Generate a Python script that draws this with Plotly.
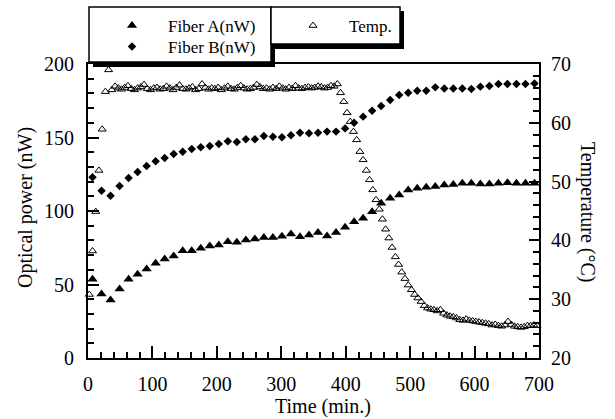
import plotly.graph_objects as go

# Sampling schedules (minutes)
time_fiber = list(range(7, 700, 14))      # 50 power readings
time_temp = list(range(2, 700, 5))        # 140 temperature readings

# Optical power of fiber A (nW)
fiber_a = [
    53.5, 43.5, 39.5, 47.0, 53.5, 57.0, 60.5, 64.4, 67.3, 69.4,
    73.0, 73.0, 74.6, 76.2, 76.9, 79.0, 78.7, 80.3, 81.0, 82.0,
    82.0, 82.8, 84.4, 82.5, 83.7, 85.3, 83.0, 85.3, 88.9, 92.7,
    95.0, 99.5, 105.2, 108.6, 110.9, 114.3, 115.4, 116.1, 116.6, 117.7,
    118.1, 118.8, 118.8, 118.4, 118.4, 118.8, 119.3, 118.8, 118.8, 118.8,
]

# Optical power of fiber B (nW)
fiber_b = [
    122.9, 113.8, 110.4, 117.0, 122.4, 126.5, 130.6, 133.8, 136.0, 138.8,
    140.3, 142.2, 143.3, 144.2, 145.6, 147.4, 146.9, 148.8, 148.8, 151.0,
    150.5, 150.1, 151.5, 153.3, 152.9, 153.3, 154.0, 154.0, 156.2, 160.1,
    164.2, 168.2, 171.4, 175.5, 178.9, 180.5, 181.8, 181.8, 184.1, 183.4,
    183.4, 183.4, 183.0, 184.6, 185.0, 186.4, 186.4, 186.4, 186.4, 186.8,
]

# Temperature (deg C): heating, hold, cooling
temp = [
    30.8, 38.2, 44.9, 51.9, 58.9, 65.3, 69.0,
    65.6, 66.2, 65.9, 65.7, 66.0, 66.3, 65.8, 65.6, 65.9, 66.1,
    66.5, 65.8, 65.6, 65.9, 66.0, 65.7, 65.8, 66.2, 65.9, 65.6,
    66.0, 66.4, 65.8, 65.7, 65.9, 66.1, 65.6, 65.8, 66.6, 66.0,
    65.7, 65.9, 65.8, 66.0, 65.6, 65.9, 66.2, 65.8, 65.7, 66.0,
    66.3, 65.9, 65.7, 65.8, 66.0, 66.5, 66.1, 65.8, 65.9, 65.7,
    66.0, 65.8, 66.2, 65.9, 65.7, 66.0, 65.8, 66.3, 65.9, 65.8,
    66.0, 66.1, 65.9, 66.0, 66.2, 66.1, 65.9, 66.0, 66.3, 66.2,
    66.6, 65.1, 63.6, 61.7, 60.2, 58.5, 57.1, 55.1, 53.7, 51.9,
    50.3, 48.6, 46.9, 45.3, 43.6, 41.9, 40.4, 38.8, 37.2, 35.9,
    34.6, 33.5, 32.4, 31.6, 30.8, 30.2, 29.6, 28.9, 28.5, 28.3,
    28.2, 28.0, 28.2, 27.6, 27.3, 27.1, 27.0, 26.8, 26.5, 26.4,
    26.6, 26.4, 26.3,
    26.2, 26.1, 26.0, 25.9, 25.8, 25.6, 25.7, 25.5, 25.4, 25.6,
    26.2, 25.7, 25.4, 25.3, 25.2, 25.3, 25.5, 25.5, 25.6, 25.5,
]

x_ticks = [0, 100, 200, 300, 400, 500, 600, 700]
power_ticks = [0, 50, 100, 150, 200]
temp_ticks = [20, 30, 40, 50, 60, 70]

FONT = "Liberation Serif, Times New Roman, Times, serif"
W, H = 615, 419
ML, MR, MT, MB = 88, 76, 64, 61
PW, PH = W - ML - MR, H - MT - MB


def px(xp):
    return (xp - ML) / PW


def py(yp):
    return (H - MB - yp) / PH


fig = go.Figure()

fig.add_trace(go.Scatter(
    x=time_fiber, y=fiber_a, mode="markers", name="Fiber A(nW)",
    marker=dict(symbol="triangle-up", size=9, color="black"),
    cliponaxis=False, legend="legend", showlegend=True,
))
fig.add_trace(go.Scatter(
    x=time_fiber, y=fiber_b, mode="markers", name="Fiber B(nW)",
    marker=dict(symbol="diamond", size=6.5, color="black"),
    cliponaxis=False, legend="legend3", showlegend=True,
))
fig.add_trace(go.Scatter(
    x=time_temp, y=temp, mode="markers", name="Temp.", yaxis="y2",
    marker=dict(symbol="triangle-up-open", size=7, color="black",
                line=dict(width=1, color="black")),
    cliponaxis=False, legend="legend2", showlegend=True,
))

axis_common = dict(
    showline=True, linecolor="black", linewidth=2,
    ticks="inside", tickcolor="black", tickwidth=2,
    showgrid=False, zeroline=False,
    tickfont=dict(family=FONT, size=20, color="black"),
)


def legend_box(left, top):
    return dict(
        x=px(left), y=py(top), xanchor="left", yanchor="top",
        bgcolor="rgba(0,0,0,0)", borderwidth=0, itemwidth=62,
        font=dict(family=FONT, size=17, color="black"),
        visible=True,
    )


fig.update_layout(
    width=W, height=H,
    showlegend=True,
    margin=dict(l=ML, r=MR, t=MT, b=MB, autoexpand=False),
    paper_bgcolor="white", plot_bgcolor="white",
    font=dict(family=FONT, color="black"),
    xaxis=dict(
        range=[0, 700], tickvals=x_ticks, ticklen=12, mirror=True,
        ticklabelstandoff=7,
        minor=dict(dtick=20, ticks="inside", ticklen=6, tickwidth=2, tickcolor="black"),
        **axis_common,
    ),
    yaxis=dict(
        range=[0, 200], tickvals=power_ticks, ticklen=11,
        ticklabelstandoff=8,
        minor=dict(dtick=10, ticks="inside", ticklen=6, tickwidth=2, tickcolor="black"),
        **axis_common,
    ),
    yaxis2=dict(
        range=[20, 70], tickvals=temp_ticks, ticklen=10,
        overlaying="y", side="right", ticklabelstandoff=6,
        minor=dict(dtick=2, ticks="inside", ticklen=6, tickwidth=2, tickcolor="black"),
        **axis_common,
    ),
    legend=legend_box(96, 8),
    legend3=legend_box(96, 29),
    legend2=legend_box(277, 8),
)

# Legend frames with drop shadows
boxes = [
    (93, 11, 275, 67, "black", 0),
    (89, 7, 271, 62, "white", 1.5),
    (275, 11, 404, 49, "black", 0),
    (271, 7, 400, 44, "white", 1.5),
]
for x0, y0, x1, y1, fill, lw in boxes:
    fig.add_shape(
        type="rect", xref="paper", yref="paper",
        x0=px(x0), x1=px(x1), y0=py(y1), y1=py(y0),
        fillcolor=fill, line=dict(color="black", width=lw), layer="above",
    )

# Axis titles
title_font = dict(family=FONT, size=20, color="black")
fig.add_annotation(
    text="Optical power (nW)", xref="paper", yref="paper",
    x=px(25), y=py(208), xanchor="center", yanchor="middle",
    textangle=-90, showarrow=False, font=title_font,
)
fig.add_annotation(
    text="Temperature (°C)", xref="paper", yref="paper",
    x=px(588), y=py(212), xanchor="center", yanchor="middle",
    textangle=90, showarrow=False, font=title_font,
)
fig.add_annotation(
    text="Time (min.)", xref="paper", yref="paper",
    x=px(323), y=py(406), xanchor="center", yanchor="middle",
    showarrow=False, font=title_font,
)

fig.write_html("out.html")
